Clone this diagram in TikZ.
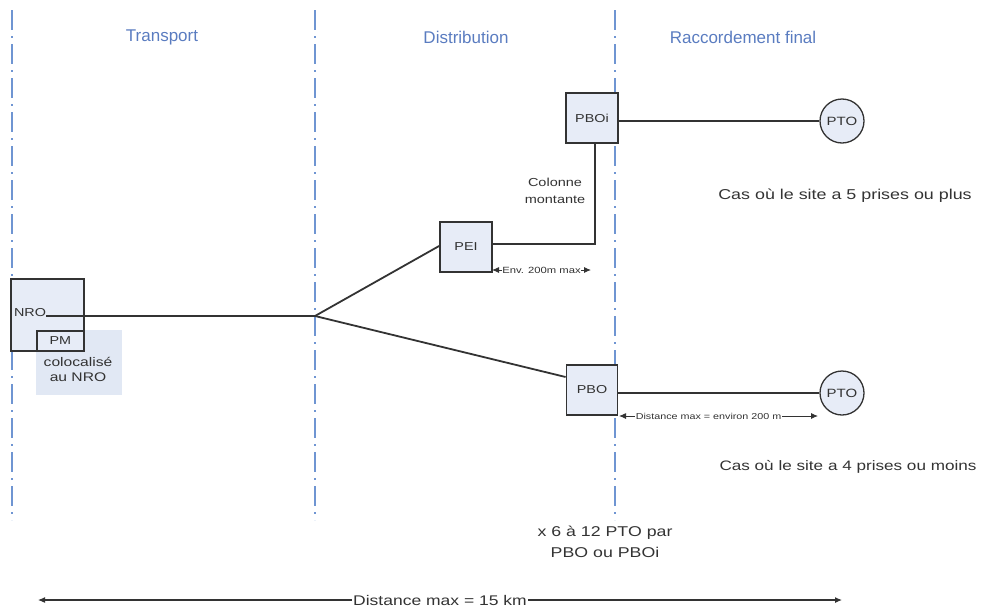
\documentclass[tikz,border=0pt]{standalone}
\usepackage{fontspec}
\setmainfont{Liberation Sans}
\newfontfamily\widefont[FakeStretch=1.25]{Liberation Sans}
\usetikzlibrary{arrows.meta}
\definecolor{sepblue}{HTML}{6F95D2}
\definecolor{headblue}{HTML}{5A7CC0}
\definecolor{boxfill}{HTML}{E7ECF7}
\definecolor{bgfill}{HTML}{E1E8F4}
\definecolor{ink}{HTML}{333333}
\begin{document}
\begin{tikzpicture}[x=1pt,y=-1pt,
  sep/.style={sepblue,line width=2pt,dash pattern=on 20pt off 6pt on 2pt off 6pt},
  head/.style={headblue,font=\fontsize{17}{19}\selectfont},
  box/.style={draw=ink,fill=boxfill,line width=1.8pt,inner sep=0pt,font=\widefont\fontsize{11.5}{13}\selectfont,text=ink},
  pto/.style={circle,draw=ink,fill=boxfill,line width=1.3pt,minimum size=44pt,inner sep=0pt,font=\widefont\fontsize{12}{14}\selectfont,text=ink},
  wire/.style={ink,line width=1.8pt},
  lbl/.style={text=ink,align=center,inner sep=0pt},
  small/.style={text=ink,fill=white,inner sep=0.5pt},
  dim/.style={ink,line width=0.9pt,{Latex[length=7pt,width=6pt]}-{Latex[length=7pt,width=6pt]}}
]
\useasboundingbox (0,0) rectangle (981,608);
% separators
\draw[sep] (12,10) -- (12,520);
\draw[sep] (315,10) -- (315,520);
\draw[sep] (615,10) -- (615,520);
% headers
\node[head] (hT) at (162,37) {Transport};
\node[head] (hD) at (466,37) {Distribution};
\node[head] (hR) at (743,37) {Raccordement final};
% NRO / PM
\fill[bgfill] (36,330) rectangle (122,395);
\node[box,minimum width=73pt,minimum height=72pt,anchor=north west] (nro) at (10,278) {};
\node[text=ink,font=\widefont\fontsize{11.5}{13}\selectfont,inner sep=0pt] (nrot) at (30,313) {NRO};
\node[box,minimum width=47pt,minimum height=20pt,anchor=north west] (pm) at (36,330) {PM};
\node[lbl,font=\widefont\fontsize{12.5}{15}\selectfont] (coloc) at (78,369) {colocalisé\\au NRO};
% split
\coordinate (split) at (315,316);
\draw[wire] (nrot.east |- split) -- (split);
% boxes
\node[box,minimum width=52pt,minimum height=50pt] (pei) at (466,247) {PEI};
\node[box,minimum width=52pt,minimum height=50pt] (pboi) at (592,118) {PBOi};
\node[box,minimum width=51pt,minimum height=50pt] (pbo) at (592,390) {PBO};
\node[pto] (pto1) at (842,121) {PTO};
\node[pto] (pto2) at (842,393) {PTO};
\draw[wire] (split) -- (pei.west |- 0,246) ;
\draw[wire] (split) -- (pbo.west |- 0,377);
\coordinate (corner) at (595,244);
\draw[wire] (pei.east |- corner) -- (corner) -- (corner |- pboi.south);
\draw[wire] (pboi.east |- pto1) -- (pto1.west);
\draw[wire] (pbo.east |- pto2) -- (pto2.west);
% labels
\node[lbl,font=\widefont\fontsize{11.6}{17}\selectfont] (col) at (555,191) {Colonne\\montante};
\node[lbl,font=\widefont\fontsize{14.3}{17}\selectfont] (cas5) at (845,196) {Cas où le site a 5 prises ou plus};
\node[lbl,font=\widefont\fontsize{13.7}{17}\selectfont] (cas4) at (848,467) {Cas où le site a 4 prises ou moins};
\node[lbl,font=\widefont\fontsize{14.2}{21}\selectfont] (x6) at (605,542) {x 6 à 12 PTO par\\PBO ou PBOi};
% dimensions
\coordinate (d1a) at (492,270); \coordinate (d1b) at (591,270);
\draw[dim] (d1a) -- (d1b) node[small,font=\widefont\fontsize{9}{10}\selectfont,midway] (d1) {Env. 200m max};
\coordinate (d2a) at (619,416); \coordinate (d2b) at (818,416);
\draw[dim] (d2a) -- (d2b) node[small,font=\widefont\fontsize{8.6}{10}\selectfont,pos=0.45] (d2) {Distance max = environ 200 m};
\coordinate (d3a) at (38,600); \coordinate (d3b) at (842,600);
\draw[dim,line width=1.1pt] (d3a) -- (d3b) node[text=ink,font=\widefont\fontsize{14}{16}\selectfont,fill=white,inner sep=1pt,pos=0.5] (d3) {Distance max = 15 km};
\end{tikzpicture}
\end{document}
